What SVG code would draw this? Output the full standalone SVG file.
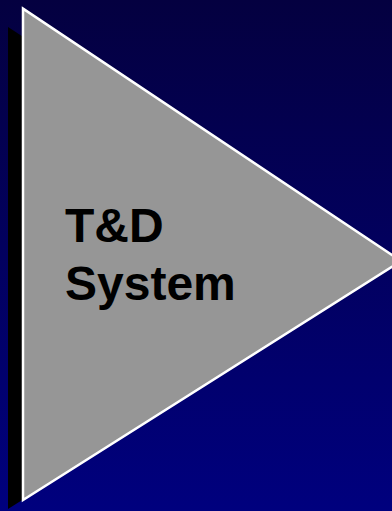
<svg xmlns="http://www.w3.org/2000/svg" width="392" height="511" viewBox="0 0 392 511">
  <defs>
    <linearGradient id="bg" x1="0" y1="0" x2="0" y2="1">
      <stop offset="0" stop-color="#040040"/>
      <stop offset="1" stop-color="#00007e"/>
    </linearGradient>
  </defs>
  <style>
    .shadow { fill: #000000; }
    .tri { fill: #969696; stroke: #ffffff; stroke-width: 2.5; stroke-linejoin: miter; }
    .label { font-family: "Liberation Sans", Arial, sans-serif; font-weight: bold; font-size: 48px; fill: #000000; }
  </style>
  <rect x="0" y="0" width="392" height="511" fill="url(#bg)"/>
  <g id="td-system">
    <polygon class="shadow" points="8,27 384,272 8,509"/>
    <polygon class="tri" points="23,8.6 401,261 23,500"/>
    <text class="label" x="65" y="242">T&amp;D</text>
    <text class="label" x="65" y="300">System</text>
  </g>
  <g id="connectors"/>
</svg>
